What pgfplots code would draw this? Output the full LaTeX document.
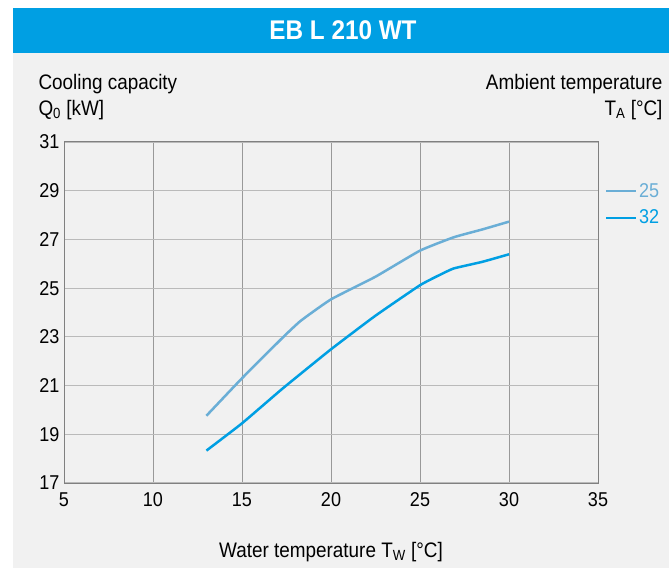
\documentclass[border=0pt]{standalone}
\usepackage{fontspec}
\setmainfont{Liberation Sans}[FakeStretch=0.9]
\usepackage{pgfplots}
\pgfplotsset{compat=1.18}
\definecolor{ebblue}{HTML}{009FE3}
\definecolor{lblue}{HTML}{6AAED6}
\definecolor{panel}{HTML}{F1F1F1}
\begin{document}
\begin{tikzpicture}[x=1pt,y=1pt]
% background, header bar and panel
\fill[white] (0,0) rectangle (669,568);
\fill[panel] (13,0) rectangle (669,515);
\fill[ebblue] (13,515) rectangle (669,560);
\node[text=white,font=\fontsize{27}{30}\selectfont\bfseries] at (343,537.5) {EB L 210 WT};
% axis titles
\node[anchor=base west,font=\fontsize{21}{24}\selectfont] at (35,478.5) {Cooling capacity};
\node[anchor=base west,font=\fontsize{21}{24}\selectfont] at (35,452.5) {Q\textsubscript{0} [kW]};
\node[anchor=base east,font=\fontsize{21}{24}\selectfont] at (666,478.5) {Ambient temperature};
\node[anchor=base east,font=\fontsize{21}{24}\selectfont] at (666,452.5) {T\textsubscript{A} [°C]};
\node[anchor=base,font=\fontsize{21}{24}\selectfont] at (331,11) {Water temperature T\textsubscript{W} [°C]};

\begin{axis}[
    at={(64pt,85pt)}, anchor=south west,
    scale only axis, width=534pt, height=341pt,
    xmin=5, xmax=35, ymin=17, ymax=31,
    xtick={5,10,...,35}, ytick={17,19,...,31},
    major tick length=0pt,
    grid=major,
    major x grid style={draw=black!40, line width=1pt},
    major y grid style={draw=black!27, line width=1.2pt},
    axis line style={draw=black!50, line width=1pt},
    /pgf/number format/assume math mode=true,
    ticklabel style={font=\fontsize{20}{22}\selectfont},
    xticklabel style={yshift=-6pt},
    yticklabel style={xshift=-1pt},
    legend style={at={(1,0.885)}, anchor=north west, draw=none, fill=none,
        xshift=7pt, inner sep=0pt, row sep=7pt,
        font=\fontsize{20}{22}\selectfont},
    legend cell align=left,
    legend image code/.code={\draw[#1, line width=2pt] (0pt,0pt) -- (30pt,0pt);},
]
\addplot[lblue, line width=2.5pt, smooth, tension=0.25] coordinates {
    (13,19.76) (15,21.3) (17.3,22.98) (18.3,23.66) (20,24.54) (22.5,25.47)
    (25,26.54) (26.9,27.09) (28.5,27.41) (30,27.73)
};
\addlegendentry{\textcolor{lblue}{25}}
\addplot[ebblue, line width=2.5pt, smooth, tension=0.25] coordinates {
    (13,18.33) (15,19.45) (17.3,20.89) (20,22.49) (22.5,23.87) (25,25.12)
    (26.1,25.54) (26.9,25.81) (28.5,26.08) (30,26.39)
};
\addlegendentry{\textcolor{ebblue}{32}}
\end{axis}
\end{tikzpicture}
\end{document}
